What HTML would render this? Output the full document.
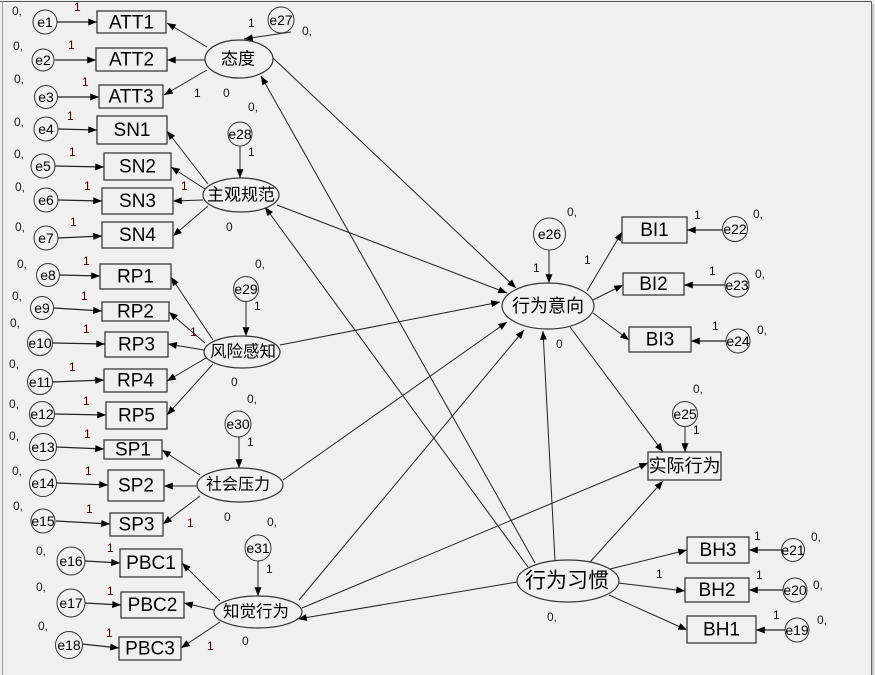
<!DOCTYPE html>
<html><head><meta charset="utf-8"><style>
html,body{margin:0;padding:0;background:#f0f0f0;}
svg{display:block;}
.t{font-family:"Liberation Sans","Noto Sans CJK SC",sans-serif;}
</style></head><body>
<svg width="875" height="675" viewBox="0 0 875 675" xmlns="http://www.w3.org/2000/svg">
<defs>
<marker id="a" markerUnits="userSpaceOnUse" viewBox="0 0 10 8" markerWidth="10" markerHeight="7" refX="10" refY="4" orient="auto"><path d="M0,0 L10,4 L0,8 z" fill="#000"/></marker>
</defs>
<rect x="0" y="0" width="875" height="675" fill="#f0f0f0"/>
<line x1="0" y1="1.5" x2="872" y2="1.5" stroke="#555" stroke-width="1"/>
<line x1="2.5" y1="1" x2="2.5" y2="675" stroke="#9a9a9a" stroke-width="1"/>
<line x1="871.5" y1="1" x2="871.5" y2="675" stroke="#666" stroke-width="1"/>
<line x1="873" y1="4" x2="873" y2="675" stroke="#bbb" stroke-width="1.5"/>

<g stroke="#222" stroke-width="1" fill="none" marker-end="url(#a)">
<line x1="207" y1="47" x2="167" y2="23"/>
<line x1="205" y1="60" x2="167" y2="60"/>
<line x1="207" y1="70" x2="164" y2="95"/>
<line x1="291" y1="32" x2="244" y2="39"/>
<line x1="208" y1="184" x2="167" y2="131"/>
<line x1="205" y1="189" x2="171" y2="167"/>
<line x1="203" y1="200" x2="173" y2="201"/>
<line x1="208" y1="206" x2="173" y2="236"/>
<line x1="240" y1="146" x2="240" y2="178"/>
<line x1="213" y1="340" x2="171" y2="277"/>
<line x1="205" y1="343" x2="169" y2="312"/>
<line x1="204" y1="350" x2="168" y2="344"/>
<line x1="206" y1="358" x2="167" y2="381"/>
<line x1="213" y1="364" x2="167" y2="415"/>
<line x1="246" y1="301" x2="246" y2="336"/>
<line x1="200" y1="475" x2="162" y2="450"/>
<line x1="197" y1="486" x2="164" y2="486"/>
<line x1="200" y1="496" x2="163" y2="524"/>
<line x1="239" y1="437" x2="239" y2="468"/>
<line x1="220" y1="601" x2="182" y2="563"/>
<line x1="214" y1="610" x2="184" y2="603"/>
<line x1="220" y1="622" x2="181" y2="648"/>
<line x1="258" y1="561" x2="258" y2="596"/>
<line x1="549" y1="250" x2="549" y2="283"/>
<line x1="587" y1="291" x2="622" y2="232"/>
<line x1="593" y1="300" x2="623" y2="285"/>
<line x1="593" y1="313" x2="629" y2="340"/>
<line x1="570" y1="327" x2="663" y2="452"/>
<line x1="685" y1="427" x2="685" y2="452"/>
<line x1="302" y1="608" x2="648" y2="463"/>
<line x1="590" y1="562" x2="663" y2="481"/>
<line x1="610" y1="569" x2="687" y2="550"/>
<line x1="618" y1="583" x2="685" y2="591"/>
<line x1="609" y1="595" x2="687" y2="630"/>
<line x1="273" y1="58" x2="516" y2="288"/>
<line x1="277" y1="205" x2="507" y2="293"/>
<line x1="280" y1="345" x2="500" y2="302"/>
<line x1="283" y1="480" x2="507" y2="322"/>
<line x1="299" y1="600" x2="524" y2="330"/>
<line x1="555" y1="561" x2="543" y2="331"/>
<line x1="535" y1="563" x2="261" y2="76"/>
<line x1="528" y1="567" x2="265" y2="207"/>
<line x1="517" y1="582" x2="298" y2="619"/>
</g>

<g stroke="#222" stroke-width="1.3" fill="none" marker-end="url(#a)">
<line x1="57" y1="22" x2="97" y2="22"/>
<line x1="55" y1="60" x2="96" y2="60"/>
<line x1="58" y1="97" x2="99" y2="97"/>
<line x1="58" y1="129" x2="97" y2="130"/>
<line x1="55" y1="166" x2="104" y2="167"/>
<line x1="58" y1="200" x2="102" y2="201"/>
<line x1="58" y1="238" x2="102" y2="236"/>
<line x1="60" y1="275" x2="100" y2="276"/>
<line x1="54" y1="308" x2="102" y2="311"/>
<line x1="53" y1="343" x2="105" y2="344"/>
<line x1="52" y1="382" x2="104" y2="380"/>
<line x1="54" y1="414" x2="106" y2="415"/>
<line x1="56" y1="447" x2="104" y2="449"/>
<line x1="56" y1="483" x2="108" y2="485"/>
<line x1="56" y1="521" x2="110" y2="524"/>
<line x1="85" y1="561" x2="120" y2="563"/>
<line x1="85" y1="603" x2="121" y2="605"/>
<line x1="82" y1="644" x2="119" y2="648"/>
<line x1="722" y1="230" x2="687" y2="230"/>
<line x1="725" y1="285" x2="684" y2="285"/>
<line x1="726" y1="341" x2="691" y2="341"/>
<line x1="781" y1="550" x2="749" y2="550"/>
<line x1="783" y1="590" x2="749" y2="590"/>
<line x1="785" y1="630" x2="756" y2="630"/>
</g>

<g fill="#f0f0f0" stroke="#3a3a3a" stroke-width="1.3">
<rect x="97" y="11" width="69" height="22"/>
<rect x="96" y="48" width="71" height="23"/>
<rect x="99" y="85" width="64" height="23"/>
<rect x="97" y="116" width="70" height="28"/>
<rect x="104" y="153" width="67" height="27"/>
<rect x="102" y="188" width="71" height="26"/>
<rect x="102" y="222" width="71" height="26"/>
<rect x="100" y="264" width="71" height="25"/>
<rect x="102" y="302" width="67" height="19"/>
<rect x="105" y="332" width="63" height="25"/>
<rect x="104" y="369" width="63" height="23"/>
<rect x="106" y="402" width="61" height="27"/>
<rect x="104" y="440" width="58" height="19"/>
<rect x="108" y="470" width="56" height="31"/>
<rect x="110" y="513" width="53" height="23"/>
<rect x="120" y="549" width="62" height="28"/>
<rect x="121" y="592" width="63" height="26"/>
<rect x="119" y="637" width="62" height="23"/>
<rect x="622" y="217" width="65" height="26"/>
<rect x="623" y="273" width="61" height="22"/>
<rect x="629" y="327" width="62" height="25"/>
<rect x="687" y="537" width="62" height="26"/>
<rect x="685" y="578" width="64" height="24"/>
<rect x="687" y="616" width="69" height="27"/>
<rect x="648" y="452" width="73" height="28"/>
</g>

<g fill="#f0f0f0" stroke="#333" stroke-width="1.2">
<ellipse cx="239" cy="59" rx="34" ry="19"/>
<ellipse cx="241" cy="195" rx="38" ry="17"/>
<ellipse cx="242" cy="352" rx="38" ry="16"/>
<ellipse cx="240" cy="485" rx="43" ry="17"/>
<ellipse cx="258" cy="612" rx="44" ry="16"/>
<ellipse cx="548" cy="306" rx="46" ry="23"/>
<ellipse cx="568" cy="581" rx="51" ry="21"/>
</g>

<g fill="#f0f0f0" stroke="#333" stroke-width="1">
<circle cx="45" cy="22" r="12"/>
<circle cx="43" cy="60" r="11"/>
<circle cx="46" cy="97" r="11.5"/>
<circle cx="46" cy="129" r="12"/>
<circle cx="43" cy="166" r="12"/>
<circle cx="46" cy="200" r="12"/>
<circle cx="46" cy="238" r="12"/>
<circle cx="48" cy="275" r="11.5"/>
<circle cx="42" cy="308" r="11.5"/>
<circle cx="40" cy="343" r="12.5"/>
<circle cx="40" cy="382" r="12.5"/>
<circle cx="42" cy="414" r="12.5"/>
<circle cx="43" cy="447" r="13.5"/>
<circle cx="43" cy="483" r="13.5"/>
<circle cx="43" cy="521" r="12"/>
<circle cx="71" cy="561" r="14"/>
<circle cx="71" cy="603" r="14"/>
<circle cx="69" cy="645" r="13.5"/>
<circle cx="797" cy="630" r="12"/>
<circle cx="795" cy="590" r="12"/>
<circle cx="793" cy="550" r="11.5"/>
<circle cx="735" cy="229" r="12.5"/>
<circle cx="737" cy="285" r="12"/>
<circle cx="738" cy="341" r="12"/>
<circle cx="685" cy="414" r="12.5"/>
<circle cx="549.5" cy="234" r="16"/>
<circle cx="281" cy="20" r="13"/>
<circle cx="240" cy="134" r="12"/>
<circle cx="246" cy="289" r="12.5"/>
<circle cx="238" cy="424" r="13"/>
<circle cx="258" cy="548" r="13"/>
</g>

<g class="t" font-size="14" fill="#000" text-anchor="middle" dominant-baseline="central">
<text x="45" y="22">e1</text><text x="43" y="60">e2</text><text x="46" y="97">e3</text>
<text x="46" y="129">e4</text><text x="43" y="166">e5</text><text x="46" y="200">e6</text>
<text x="46" y="238">e7</text><text x="48" y="275">e8</text><text x="42" y="308">e9</text>
<text x="40" y="343">e10</text><text x="40" y="382">e11</text><text x="42" y="414">e12</text>
<text x="43" y="447">e13</text><text x="43" y="483">e14</text><text x="43" y="521">e15</text>
<text x="71" y="561">e16</text><text x="71" y="603">e17</text><text x="69" y="645">e18</text>
<text x="797" y="630">e19</text><text x="795" y="590">e20</text><text x="793" y="550">e21</text>
<text x="735" y="229">e22</text><text x="737" y="285">e23</text><text x="738" y="341">e24</text>
<text x="685" y="414">e25</text><text x="549.5" y="234">e26</text><text x="281" y="20">e27</text>
<text x="240" y="134">e28</text><text x="246" y="289">e29</text><text x="238" y="424">e30</text>
<text x="258" y="548">e31</text>
</g>

<g class="t" font-size="19" fill="#000" text-anchor="middle" dominant-baseline="central">
<text x="131.5" y="23">ATT1</text>
<text x="131.5" y="60">ATT2</text>
<text x="131" y="97">ATT3</text>
<text x="132" y="130.5">SN1</text>
<text x="137.5" y="167">SN2</text>
<text x="137.5" y="201.5">SN3</text>
<text x="137.5" y="235.5">SN4</text>
<text x="135.5" y="277">RP1</text>
<text x="135.5" y="312">RP2</text>
<text x="136.5" y="345">RP3</text>
<text x="135.5" y="381">RP4</text>
<text x="136.5" y="416">RP5</text>
<text x="133" y="450">SP1</text>
<text x="136" y="486">SP2</text>
<text x="136.5" y="525">SP3</text>
<text x="151" y="563.5">PBC1</text>
<text x="152.5" y="605.5">PBC2</text>
<text x="150" y="649">PBC3</text>
<text x="654.5" y="230.5">BI1</text>
<text x="653.5" y="284.5">BI2</text>
<text x="660" y="340">BI3</text>
<text x="718" y="550.5">BH3</text>
<text x="717" y="590.5">BH2</text>
<text x="721.5" y="630">BH1</text>
</g>

<g class="t" fill="#000" text-anchor="middle" dominant-baseline="central">
<text x="238" y="59" font-size="17">态度</text>
<text x="241" y="195" font-size="17">主观规范</text>
<text x="243" y="352" font-size="16.5">风险感知</text>
<text x="238" y="485" font-size="16">社会压力</text>
<text x="256" y="612" font-size="16.5">知觉行为</text>
<text x="548" y="306" font-size="18">行为意向</text>
<text x="567" y="581" font-size="21">行为习惯</text>
<text x="684.5" y="466" font-size="18">实际行为</text>
</g>

<g class="t" font-size="12" fill="#1a1a1a">
<text x="12" y="15">0,</text><text x="13" y="50">0,</text><text x="14" y="83">0,</text>
<text x="14" y="126">0,</text><text x="14" y="158">0,</text><text x="15" y="191">0,</text>
<text x="15" y="231">0,</text><text x="17" y="268">0,</text><text x="12" y="300">0,</text>
<text x="10" y="327">0,</text><text x="9" y="368">0,</text><text x="9" y="408">0,</text>
<text x="9" y="440">0,</text><text x="12" y="475">0,</text><text x="13" y="510">0,</text>
<text x="36" y="555">0,</text><text x="36" y="591">0,</text><text x="38" y="630">0,</text>
<text x="248" y="111">0,</text><text x="255" y="268">0,</text><text x="247" y="403">0,</text>
<text x="267" y="526">0,</text><text x="547" y="621">0,</text><text x="302" y="35">0,</text>
<text x="567" y="216">0,</text><text x="753" y="218">0,</text><text x="755" y="278">0,</text>
<text x="757" y="334">0,</text><text x="693" y="393">0,</text><text x="811" y="541">0,</text>
<text x="813" y="589">0,</text><text x="817" y="624">0,</text>
<text x="223" y="97">0</text><text x="226" y="231">0</text><text x="231" y="386">0</text>
<text x="224" y="521">0</text><text x="242" y="645">0</text><text x="556" y="348">0</text>
</g>

<g class="t" font-size="12" fill="#3a0000">
<text x="74" y="11">1</text><text x="68" y="49">1</text><text x="82" y="86">1</text>
<text x="67" y="120">1</text><text x="69" y="156">1</text><text x="84" y="190">1</text>
<text x="70" y="226">1</text><text x="83" y="265">1</text><text x="81" y="300">1</text>
<text x="83" y="333">1</text><text x="69" y="371">1</text><text x="83" y="405">1</text>
<text x="84" y="438">1</text><text x="85" y="475">1</text><text x="86" y="513">1</text>
<text x="107" y="552">1</text><text x="107" y="595">1</text><text x="106" y="637">1</text>
<text x="181" y="190">1</text><text x="190" y="336">1</text><text x="187" y="527">1</text>
<text x="207" y="650">1</text>
</g>
<g class="t" font-size="12" fill="#111">
<text x="194" y="97">1</text><text x="248" y="27">1</text><text x="248" y="156">1</text>
<text x="254" y="310">1</text><text x="247" y="446">1</text><text x="266" y="573">1</text>
<text x="533" y="272">1</text><text x="584" y="264">1</text><text x="694" y="219">1</text>
<text x="709" y="275">1</text><text x="712" y="330">1</text><text x="693" y="434">1</text>
<text x="754" y="540">1</text><text x="656" y="578">1</text><text x="756" y="579">1</text>
<text x="773" y="619">1</text>
</g>
</svg>
</body></html>
